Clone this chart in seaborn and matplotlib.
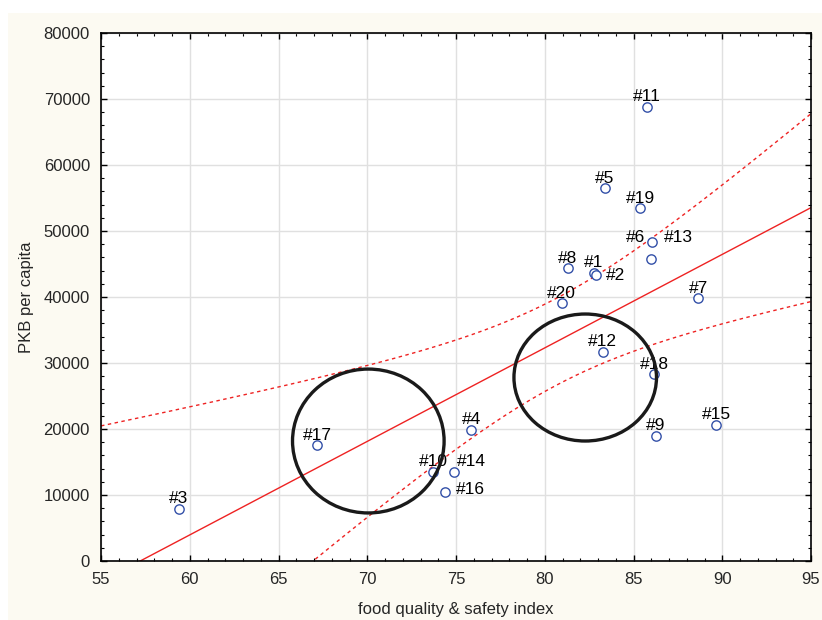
import numpy as np
import pandas as pd
import seaborn as sns
import matplotlib.pyplot as plt
from matplotlib.patches import Ellipse, Rectangle
from matplotlib.ticker import MultipleLocator

# Dane: indeks jakosci i bezpieczenstwa zywnosci vs PKB per capita
labels = ['#1', '#2', '#3', '#4', '#5', '#6', '#7', '#8', '#9', '#10',
          '#11', '#12', '#13', '#14', '#15', '#16', '#17', '#18', '#19', '#20']
food_index = [82.77, 82.90, 59.39, 75.85, 83.39, 85.97, 88.65, 81.29, 86.25, 73.72,
              85.74, 83.26, 86.06, 74.87, 89.67, 74.40, 67.19, 86.17, 85.37, 80.95]
pkb = [43690, 43330, 7880, 19850, 56470, 45810, 39800, 44340, 18990, 13540,
       68830, 31720, 48380, 13490, 20610, 10400, 17530, 28280, 53430, 39040]

# przesuniecia etykiet (piksele)
label_offsets = {'#2': (19, 0), '#6': (-15, 21), '#13': (26, 4),
                 '#14': (18, 10), '#16': (25, 3)}

# zaznaczone obszary (okregi)
circle_centers = [(70.06, 18180), (82.28, 27800)]
circle_sizes = [(8.54, 21800), (8.03, 19240)]

df = pd.DataFrame({'label': labels, 'x': food_index, 'y': pkb})

sns.set_style('ticks')
plt.rcParams['font.family'] = ['Liberation Sans', 'DejaVu Sans']
plt.rcParams['font.size'] = 12

fig = plt.figure(figsize=(8.22, 6.20), dpi=100)
fig.patch.set_facecolor('white')
bg = Rectangle((8 / 822, 0), 1, 607 / 620, transform=fig.transFigure,
               facecolor='#FCFAF2', edgecolor='none', zorder=-10)
fig.add_artist(bg)
ax = fig.add_axes([101 / 822, 59 / 620, 710 / 822, 528 / 620])
ax.set_facecolor('white')

# regresja liniowa + 95% przedzial ufnosci
x = df['x'].to_numpy()
y = df['y'].to_numpy()
n = len(x)
b, a = np.polyfit(x, y, 1)
resid = y - (a + b * x)
s = np.sqrt(np.sum(resid ** 2) / (n - 2))
sxx = np.sum((x - x.mean()) ** 2)
t = 2.101
xs = np.linspace(55, 95, 300)
fit = a + b * xs
half = t * s * np.sqrt(1 / n + (xs - x.mean()) ** 2 / sxx)

ax.plot(xs, fit, color='#EE2222', lw=1.0, zorder=2)
ax.plot(xs, fit + half, color='#EE2222', lw=1.0, ls=(0, (2.5, 2.5)), zorder=2)
ax.plot(xs, fit - half, color='#EE2222', lw=1.0, ls=(0, (2.5, 2.5)), zorder=2)

sns.scatterplot(data=df, x='x', y='y', ax=ax, marker='o', s=45,
                facecolor='white', edgecolor='#3350A8', linewidth=1.0, zorder=3)

for lab, xi, yi in zip(labels, food_index, pkb):
    dx, dy = label_offsets.get(lab, (0, 10))
    ax.annotate(lab, (xi, yi), xytext=(dx, dy), textcoords='offset pixels',
                ha='center', va='center', fontsize=12.5, color='black', zorder=4)

for (cx, cy), (w, h) in zip(circle_centers, circle_sizes):
    ax.add_patch(Ellipse((cx, cy), w, h, fill=False, edgecolor='#1a1a1a',
                         lw=2.4, zorder=5))

ax.set_xlim(55, 95)
ax.set_ylim(0, 80000)
ax.xaxis.set_major_locator(MultipleLocator(5))
ax.xaxis.set_minor_locator(MultipleLocator(1))
ax.yaxis.set_major_locator(MultipleLocator(10000))
ax.yaxis.set_minor_locator(MultipleLocator(2000))
ax.grid(True, which='major', color='#E0E0E0', lw=1.0, zorder=0)
ax.set_axisbelow(True)
ax.tick_params(which='both', direction='in', top=True, right=True, color='black')
ax.tick_params(which='major', length=4, width=1, labelsize=12, pad=8)
ax.tick_params(which='minor', length=2.5, width=0.8)
for sp in ax.spines.values():
    sp.set_color('black')
    sp.set_linewidth(1.2)

ax.set_xlabel('food quality & safety index', fontsize=12, labelpad=11)
ax.set_ylabel('PKB per capita', fontsize=12, labelpad=7)

fig.savefig('out.png', dpi=100, facecolor=fig.get_facecolor())
